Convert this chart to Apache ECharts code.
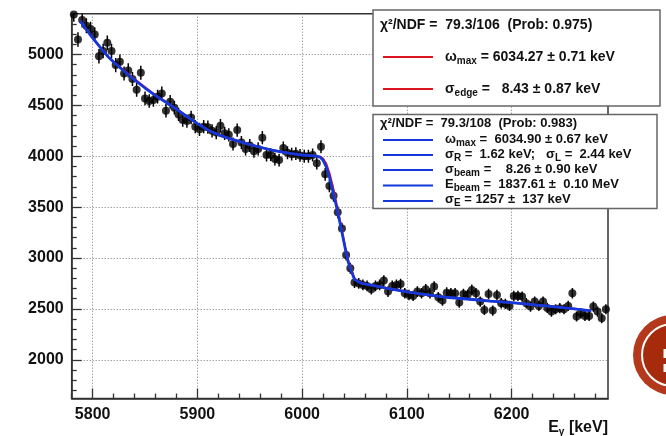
<!DOCTYPE html>
<html><head><meta charset="utf-8">
<script src="https://cdn.jsdelivr.net/npm/echarts@6/dist/echarts.min.js"></script>
<style>html,body{margin:0;padding:0;background:#fff}#c{width:666px;height:436px}</style>
</head><body><div id="c"></div>
<script>
// ---- data ----
const binCenters = [
5782,5786,5790,5794,5798,5802,5806,5810,5814,5818,5822,5826,5830,5834,5838,5842,5846,5850,5854,5858,5862,5866,5870,5874,5878,5882,5886,5890,5894,5898,5902,5906,
5910,5914,5918,5922,5926,5930,5934,5938,5942,5946,5950,5954,5958,5962,5966,5970,5974,5978,5982,5986,5990,5994,5998,6002,6006,6010,6014,6018,6022,6026,6030,6034,6038,6042,6046,
6050,6054,6058,6062,6066,6070,6074,6078,6082,6086,6090,6094,6098,6102,6106,6110,6114,6118,6122,6126,6130,6134,6138,6142,6146,6150,6154,6158,
6162,6166,6170,6174,6178,6182,6186,6190,6194,6198,6202,6206,6210,6214,6218,6222,6226,6230,6234,6238,6242,6246,6250,6254,6258,6262,6266,6270,6274,6278,6282,6286,6290];
const counts = [
5393,5147,5337,5282,5249,5196,4983,5033,5115,5033,4895,4928,4813,4843,4758,4653,4820,4568,4542,4552,4585,4617,4447,4535,4477,4411,4355,4345,4381,4290,4264,4290,
4285,4250,4232,4300,4225,4210,4120,4257,4135,4072,4105,4050,4072,4182,4012,4015,3972,3962,4080,4035,4020,4025,4008,4000,4000,4012,3932,4092,3822,3708,3612,3450,3290,3030,2900,
2759,2750,2736,2726,2693,2726,2736,2778,2670,2726,2736,2745,2654,2637,2628,2670,2654,2693,2654,2719,2615,2582,2660,2654,2654,2562,2647,2640,
2687,2654,2572,2490,2647,2484,2637,2556,2549,2529,2628,2628,2621,2556,2523,2572,2529,2572,2510,2474,2497,2507,2497,2529,2654,2425,2457,2431,2431,2523,2474,2408,2497];
const errors = [
73,72,73,73,72,72,71,71,72,71,70,70,69,70,69,68,69,68,67,67,68,68,67,67,67,66,66,66,66,65,65,65,
65,65,65,66,65,65,64,65,64,64,64,64,64,65,63,63,63,63,64,64,63,63,63,63,63,63,63,64,62,61,60,59,57,55,54,
53,53,52,52,52,52,52,53,52,52,52,52,52,51,51,52,52,52,52,52,51,51,52,52,52,51,51,51,
52,52,51,50,51,50,51,51,50,50,51,51,51,51,50,51,50,51,50,50,50,50,50,50,52,49,50,49,49,50,50,49,50];
const fitX = [5788,5792,5796,5800,5805,5810,5815,5820,5830,5840,5850,5860,5870,5880,5890,5900,5910,5920,5930,5940,5950,5960,5970,5980,5990,
6000,6008,6014,6017,6020,6023,6026,6029,6032,6035,6038,6041,6044,6047,6050,6054,6058,6065,6080,6100,6120,6140,6160,6180,6200,6220,6240,6260,6276];
const fitBlue = [5330,5272,5216,5162,5098,5035,4975,4925,4835,4750,4670,4595,4530,4462,4390,4320,4258,4210,4175,4145,4115,4088,4063,4042,4025,
4012,4006,4000,3992,3960,3895,3800,3670,3540,3400,3250,3100,2960,2870,2790,2765,2748,2735,2705,2668,2637,2612,2595,2577,2562,2543,2522,2500,2480];
const fitRed = [5330,5272,5216,5162,5098,5035,4975,4928,4842,4757,4676,4598,4532,4462,4390,4320,4258,4210,4175,4145,4115,4088,4063,4042,4025,
4012,4006,4000,3995,3975,3925,3835,3710,3570,3420,3265,3110,2975,2885,2795,2768,2750,2736,2706,2668,2637,2612,2595,2577,2562,2543,2522,2500,2480];
const xMajorTicks = [5800,5900,6000,6100,6200];
const xMinorTicks = [5780,5820,5840,5860,5880,5920,5940,5960,5980,6020,6040,6060,6080,6120,6140,6160,6180,6220,6240,6260,6280];
const yMajorTicks = [2000,2500,3000,3500,4000,4500,5000];
const yMinorTicks = [1700,1800,1900,2100,2200,2300,2400,2600,2700,2800,2900,3100,3200,3300,3400,3600,3700,3800,3900,4100,4200,4300,4400,4600,4700,4800,4900,5100,5200,5300,5400];

// ---- chart ----
const FONT = 'Liberation Sans, Arial, Helvetica, sans-serif';
const AX = '#333';
const points = binCenters.map((x, i) => [x, counts[i]]);
const bars = binCenters.map((x, i) => [x, counts[i] - errors[i], counts[i] + errors[i]]);
const blueLine = fitX.map((x, i) => [x, fitBlue[i]]);
const redLine = fitX.map((x, i) => [x, fitRed[i]]);

function xAxisDef(ticks, len, labels) {
  return {
    type: 'value', min: 5780, max: 6292, position: 'bottom',
    axisLine: {show: labels, onZero: false, lineStyle: {color: AX, width: 1.5}},
    axisTick: {show: true, inside: true, length: len, customValues: ticks, lineStyle: {color: AX, width: 1.3}},
    axisLabel: {show: labels, customValues: ticks, margin: 8, color: '#111', fontFamily: FONT, fontWeight: 'bold', fontSize: 16, formatter: v => String(v)},
    splitLine: {show: labels, lineStyle: {color: '#7a7a7a', width: 1, type: [1, 2]}}
  };
}
function yAxisDef(ticks, len, labels) {
  return {
    type: 'value', min: 1620, max: 5400, position: 'left',
    axisLine: {show: labels, onZero: false, lineStyle: {color: AX, width: 1.5}},
    axisTick: {show: true, inside: true, length: len, customValues: ticks, lineStyle: {color: AX, width: 1.3}},
    axisLabel: {show: labels, customValues: ticks, margin: 8, color: '#111', fontFamily: FONT, fontWeight: 'bold', fontSize: 16, formatter: v => String(v)},
    splitLine: {show: labels, lineStyle: {color: '#7a7a7a', width: 1, type: [1, 2]}}
  };
}

function rt(x, y, text, size, subSize) {
  return {
    type: 'text', x: x, y: y, z: 100,
    style: {
      text: text, verticalAlign: 'middle', align: 'left',
      fontFamily: FONT, fontWeight: 'bold', fontSize: size, fill: '#111',
      rich: {
        m: {fontFamily: FONT, fontWeight: 'bold', fontSize: size, fill: '#111'},
        s: {fontFamily: FONT, fontWeight: 'bold', fontSize: subSize, fill: '#111', padding: [8, 0, 0, 0]}
      }
    }
  };
}
function seg(x1, x2, y, color) {
  return {type: 'line', z: 100, shape: {x1: x1, y1: y, x2: x2, y2: y}, style: {stroke: color, lineWidth: 2.2}};
}
const RED = '#dc1420', BLUE = '#1437dc';

const graphics = [
  // box 1
  {type: 'rect', z: 99, shape: {x: 373, y: 10, width: 287, height: 96}, style: {fill: '#fff', stroke: '#666', lineWidth: 1.5}},
  rt(380, 25, '{m|χ²/NDF =  79.3/106  (Prob: 0.975)}', 14, 10),
  seg(383, 433, 57, RED),
  rt(445, 57, '{m|ω}{s|max}{m| = 6034.27 ± 0.71 keV}', 14, 10),
  seg(383, 433, 89, RED),
  rt(445, 89, '{m|σ}{s|edge}{m| =   8.43 ± 0.87 keV}', 14, 10),
  // box 2
  {type: 'rect', z: 99, shape: {x: 373, y: 114.5, width: 284, height: 94}, style: {fill: '#fff', stroke: '#666', lineWidth: 1.5}},
  rt(380, 123, '{m|χ²/NDF =  79.3/108  (Prob: 0.983)}', 13, 10),
  seg(383, 433, 140, BLUE),
  rt(445, 139, '{m|ω}{s|max}{m| =  6034.90 ± 0.67 keV}', 13, 10),
  seg(383, 433, 155, BLUE),
  rt(445, 154, '{m|σ}{s|R}{m| =  1.62 keV;   σ}{s|L}{m| =  2.44 keV}', 13, 10),
  seg(383, 433, 170, BLUE),
  rt(445, 169, '{m|σ}{s|beam}{m| =    8.26 ± 0.90 keV}', 13, 10),
  seg(383, 433, 185.5, BLUE),
  rt(445, 184.5, '{m|E}{s|beam}{m| =  1837.61 ±  0.10 MeV}', 13, 10),
  seg(383, 433, 201, BLUE),
  rt(445, 199.5, '{m|σ}{s|E}{m| = 1257 ±  137 keV}', 13, 10),
  // axis title
  {type: 'text', x: 608, y: 428, z: 100, style: {text: '{m|E}{s|γ}{m| [keV]}', align: 'right', verticalAlign: 'middle',
    fontFamily: FONT, fontWeight: 'bold', fontSize: 16, fill: '#111',
    rich: {m: {fontFamily: FONT, fontWeight: 'bold', fontSize: 16, fill: '#111'}, s: {fontFamily: FONT, fontWeight: 'bold', fontSize: 10, fill: '#111', padding: [8, 0, 0, 0]}}}},
  // decorative red badge at the right edge
  {type: 'circle', z: 100, shape: {cx: 673, cy: 355, r: 40}, style: {fill: '#b3381c'}},
  {type: 'circle', z: 101, shape: {cx: 673, cy: 355, r: 31}, style: {fill: '#a62a0c', stroke: '#fff', lineWidth: 2}},
  {type: 'rect', z: 102, shape: {x: 663.5, y: 349, width: 3, height: 9}, style: {fill: '#fff'}},
  {type: 'rect', z: 102, shape: {x: 663.5, y: 364, width: 3, height: 8}, style: {fill: '#fff'}}
];

const chart = echarts.init(document.getElementById('c'), null, {renderer: 'canvas'});
chart.setOption({
  animation: false,
  backgroundColor: '#fff',
  grid: {left: 71.7, right: 58, top: 13.7, bottom: 37.5, show: true, borderColor: AX, borderWidth: 1.5, backgroundColor: 'transparent'},
  xAxis: [xAxisDef(xMajorTicks, 10, true), xAxisDef(xMinorTicks, 5, false)],
  yAxis: [yAxisDef(yMajorTicks, 10, true), yAxisDef(yMinorTicks, 5, false)],
  series: [
    {
      type: 'custom', name: 'err', xAxisIndex: 0, yAxisIndex: 0, z: 2, clip: true,
      data: bars,
      renderItem: function (params, api) {
        const p1 = api.coord([api.value(0), api.value(1)]);
        const p2 = api.coord([api.value(0), api.value(2)]);
        return {type: 'line', shape: {x1: p1[0], y1: p1[1], x2: p2[0], y2: p2[1]}, style: {stroke: '#000', lineWidth: 1.5}};
      }
    },
    {type: 'scatter', name: 'data', data: points, symbol: 'circle', symbolSize: 8, itemStyle: {color: '#000'}, z: 3, clip: true},
    {type: 'line', name: 'fit1', data: redLine, showSymbol: false, smooth: false, lineStyle: {color: RED, width: 2.2}, z: 4},
    {type: 'line', name: 'fit2', data: blueLine, showSymbol: false, smooth: false, lineStyle: {color: BLUE, width: 2.8}, z: 5}
  ],
  graphic: graphics
});
</script>
</body></html>
